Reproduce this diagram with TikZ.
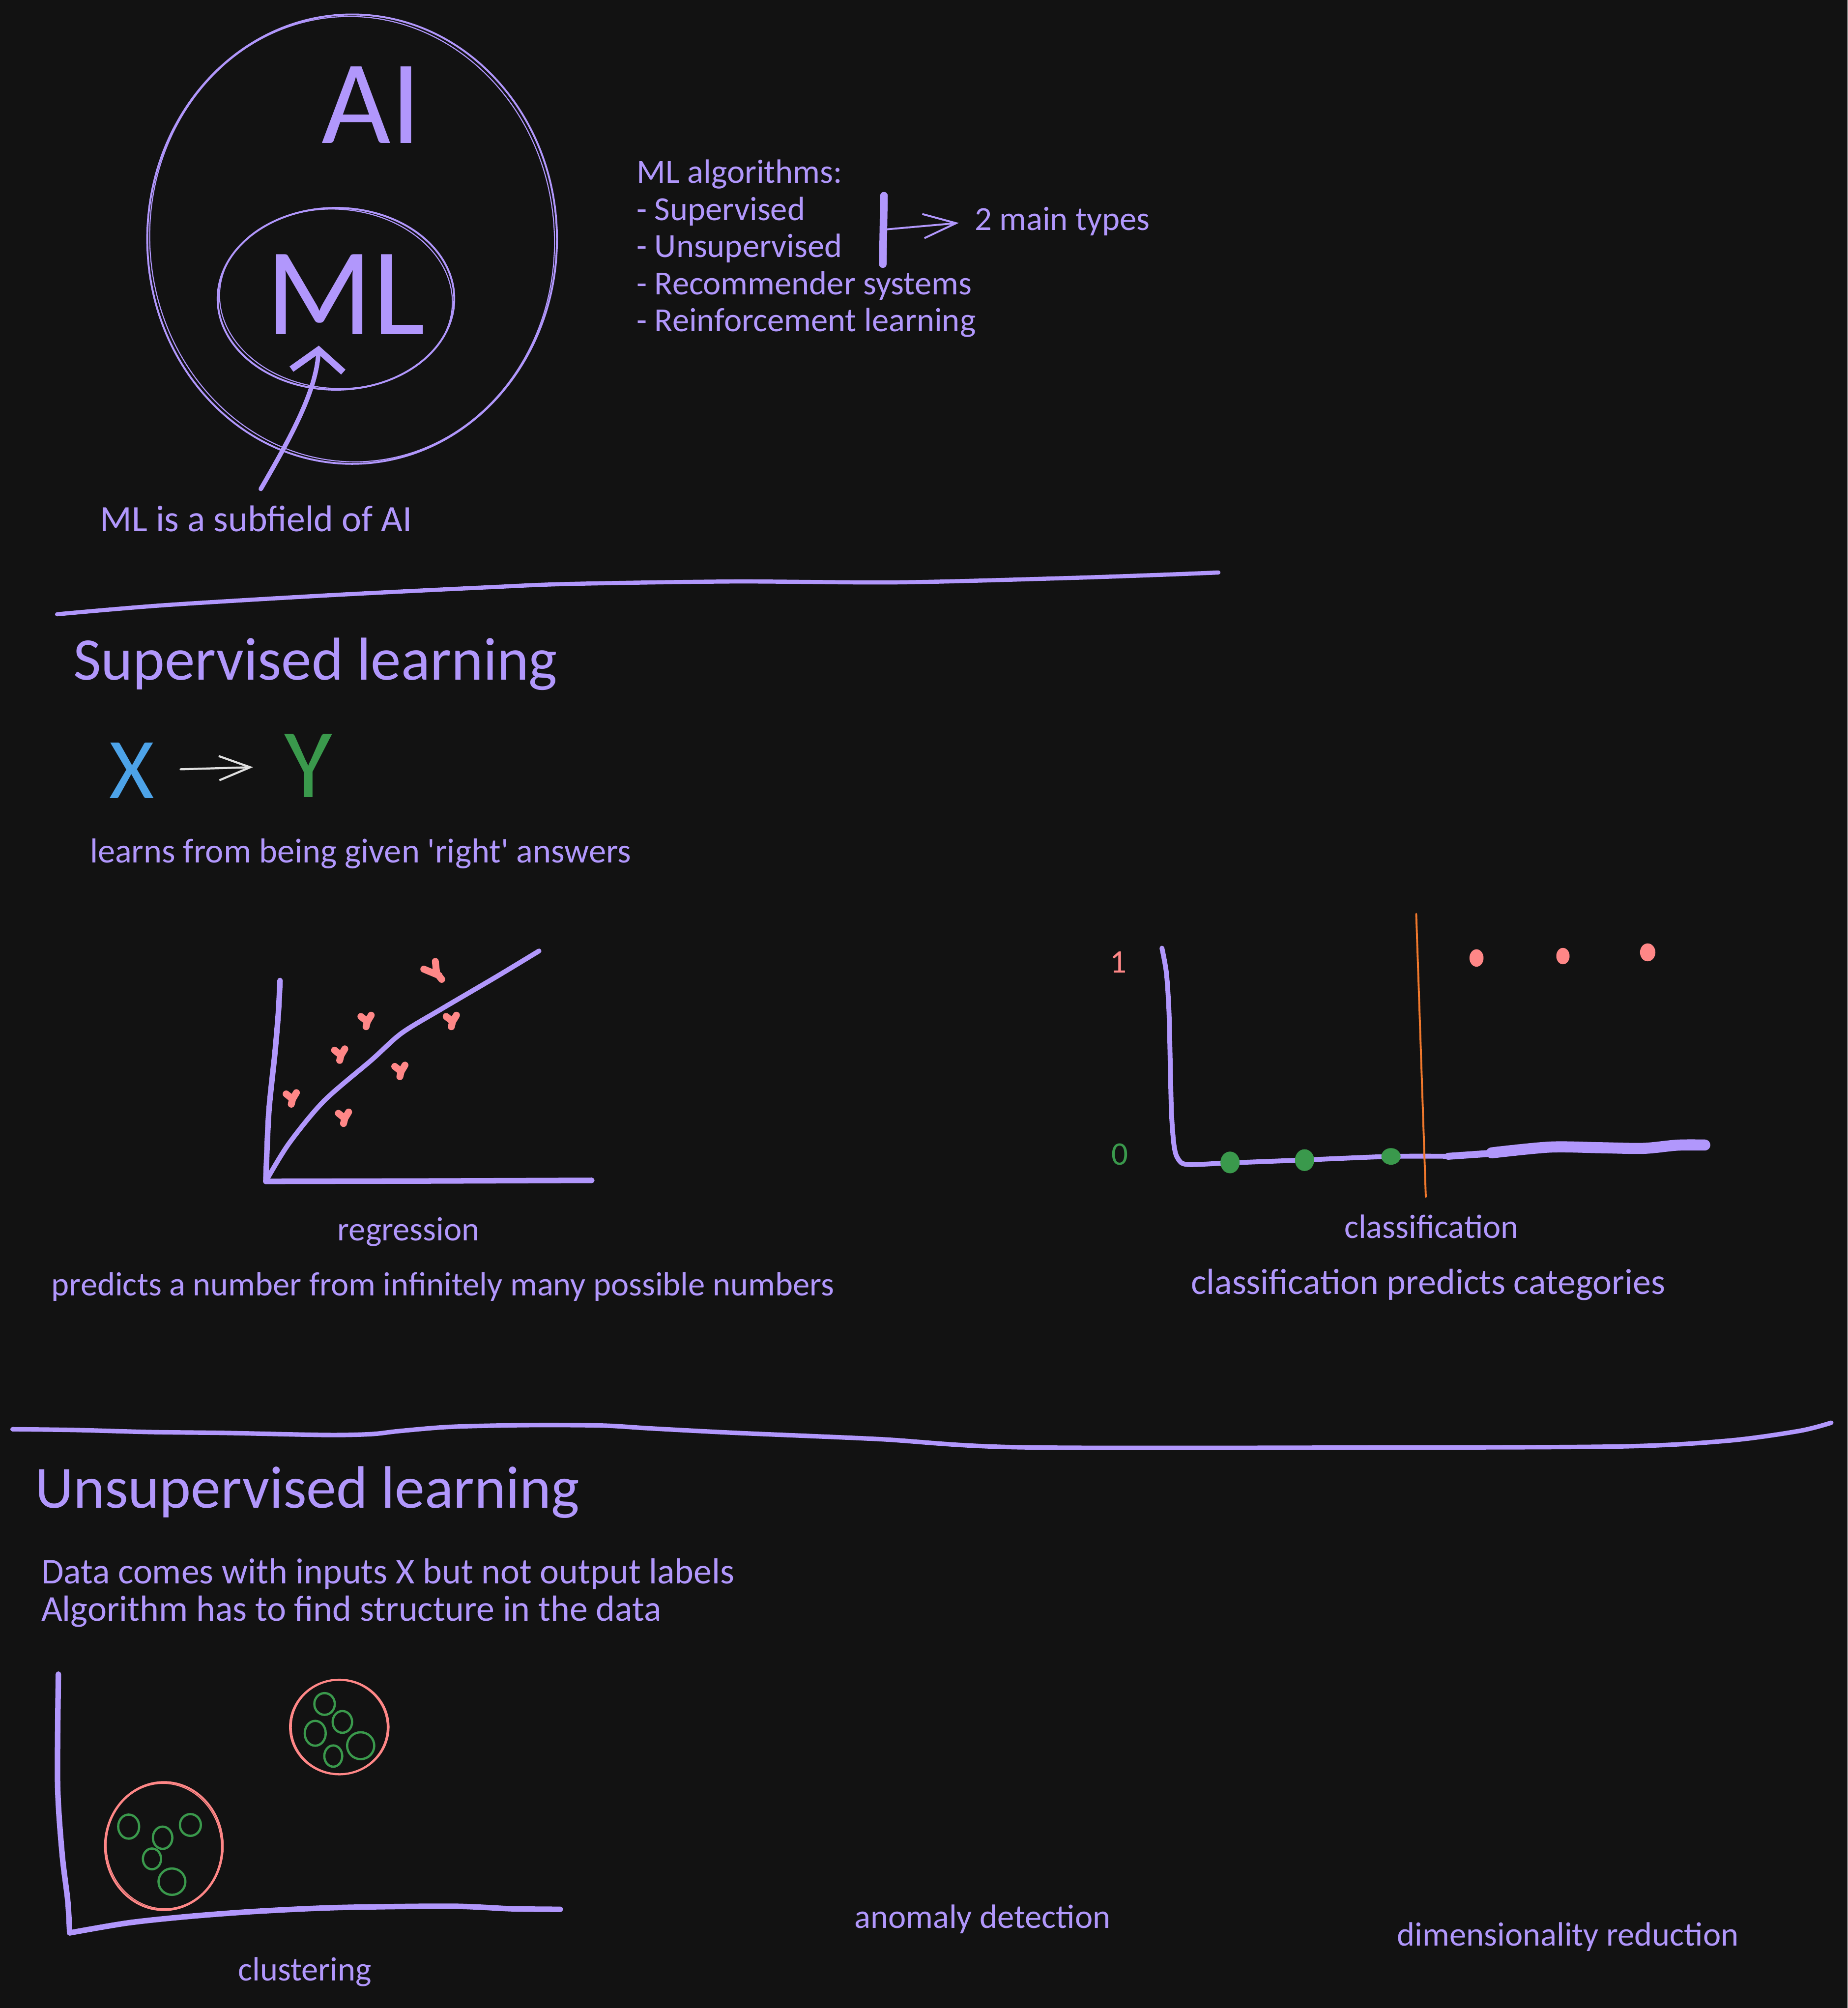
\documentclass[tikz,border=0pt]{standalone}
\usepackage{fontspec}
\setmainfont{Carlito}
\usetikzlibrary{shapes.geometric,arrows.meta}
\definecolor{paper}{HTML}{121212}
\definecolor{inkviolet}{HTML}{B197FC}
\definecolor{inkred}{HTML}{FF8787}
\definecolor{inkgreen}{HTML}{3A994C}
\definecolor{inkblue}{HTML}{4DA3E8}
\definecolor{inkorange}{HTML}{F0782C}
\definecolor{inkwhite}{HTML}{E0E0E0}
\newdimen\spx \spx=0.026cm
\begin{document}
\begin{tikzpicture}[x=0.026cm, y=-0.026cm, line cap=round, line join=round,
                        notetext/.style={
                        text=inkviolet, inner sep=0pt, anchor=base west,
                        font=\fontsize{19.5}{21.5}\selectfont},
                        titletext/.style={
                        text=inkviolet, inner sep=0pt, anchor=base west,
                        font=\fontsize{35}{40}\selectfont},
                        ring/.style={
                        shape=ellipse, draw=inkviolet, line width=1.1pt, inner sep=0pt},
                        redbubble/.style={
                        shape=ellipse, draw=inkred, line width=1.1pt, inner sep=0pt},
                        greendot/.style={
                        shape=ellipse, draw=inkgreen, line width=1.3pt, inner sep=0pt},
                        axisline/.style={draw=inkviolet, line width=3.2pt},
                        divline/.style={draw=inkviolet, line width=2.4pt},
                        redblob/.style={draw=inkred, line width=4pt}]
                        \fill [paper] (0,0) rectangle (1443,1568.5);
                        \useasboundingbox (0,0) rectangle (1443,1568.5);
                        % AI and ML
                        \node [ring, minimum width=320\spx, minimum height=351\spx] (aiw) at (275,186.8) {};
                        \draw [inkviolet, line width=0.6pt, rotate around={4:(275,186.8)}] (275,186.8) ellipse [x radius=158, y radius=174];
                        \node [text=inkviolet, inner sep=0pt, font=\fontsize{69}{69}\selectfont] (ait) at (290,82) {AI};
                        \node [ring, minimum width=184.8\spx, minimum height=142\spx] (mlw) at (262.4,233.4) {};
                        \draw [inkviolet, line width=0.6pt, rotate around={-4:(262.4,233.4)}] (262.4,233.4) ellipse [x radius=91, y radius=70];
                        \node [text=inkviolet, inner sep=0pt, font=\fontsize{72}{72}\selectfont] (mlt) at (270,230) {ML};
                        \node [notetext, font=\fontsize{21.5}{22}\selectfont] (sub) at (78,415) {ML is a subfield of AI};
                        \coordinate (subtail) at (203.7,381.9);
                        \coordinate (mlhead) at (249,270);
                        \draw [inkviolet, line width=2.6pt, -{Straight Barb[length=12pt,width=30pt,line width=3.8pt]}] (subtail) .. controls (228,340) and (247,305) .. (mlhead);
                        % algorithm list
                        \node [notetext] (alg0) at (497,143) {ML algorithms:};
                        \node [notetext] (alg1) at (497,172) {- Supervised};
                        \node [notetext] (alg2) at (497,201) {- Unsupervised};
                        \node [notetext] (alg3) at (497,230) {- Recommender systems};
                        \node [notetext] (alg4) at (497,259) {- Reinforcement learning};
                        \node [notetext] (types) at (761,180) {2 main types};
                        \draw [inkviolet, line width=4.4pt] (690.4,152.9) -- (689.5,206.3);
                        \coordinate (split) at (692,179.2);
                        \draw [inkviolet, line width=1.1pt, shorten >=9pt, -{Straight Barb[length=19pt,width=14pt]}] (split) -- (types.west);
                        \draw [divline] plot [smooth] coordinates {(44.6,479.8) (127.3,472.8) (254.6,465.1) (382,458.7) (445.6,456.1) (573,454.2) (700,454.9) (827.5,451.7) (904,449.1) (951.6,447.2)};
                        % supervised learning
                        \node [titletext] (suptitle) at (57,531) {Supervised learning};
                        \node [text=inkblue, inner sep=0pt, font=\fontsize{50}{50}\selectfont] (xin) at (103,602) {X};
                        \node [text=inkgreen, inner sep=0pt, font=\fontsize{57}{57}\selectfont] (yout) at (241,598) {Y};
                        \draw [inkwhite, line width=1.2pt, shorten <=15pt, shorten >=18pt, -{Straight Barb[length=18pt,width=14pt]}] (xin) -- (yout);
                        \node [notetext, font=\fontsize{20}{22}\selectfont] (learns) at (70,674) {learns from being given \textquotesingle right\textquotesingle{} answers};
                        % regression
                        \draw [axisline] plot [smooth] coordinates {(218.7,765.9) (217.5,790) (214.8,821.7) (209.9,869.4) (207.6,922.8)};
                        \draw [axisline] (207.6,922.8) -- (330,922.5) -- (462.2,922);
                        \draw [inkviolet, line width=2.8pt] plot [smooth] coordinates {(207.6,922.8) (225.6,893.3) (253,860) (290.2,828) (313.7,807) (345,788) (388.1,762.7) (421,742.8)};
                        \foreach \px/\py in {227.5/857.5, 268.3/872.6, 265.3/823.3, 285.9/797, 312.3/836, 352.5/797}
                          \draw [redblob] (\px-4,\py-3) -- (\px+1,\py+1) -- (\px+4,\py-4) (\px+1,\py+1) -- (\px,\py+5);
                        \draw [redblob] (331,757) -- (343,762) (340,751) -- (341,760) -- (345,765);
                        \node [notetext, anchor=base] (regr) at (319,969) {regression};
                        \node [notetext] (regrnote) at (40,1012) {predicts a number from infinitely many possible numbers};
                        % classification
                        \draw [axisline, line width=2.8pt] plot [smooth] coordinates {(907.5,740.6) (911,760) (913,790) (914,830) (915,870) (917,895) (920,905) (927.3,909.6) (959,908.4) (1020,906) (1086,903.3) (1131,903.2)};
                        \draw [axisline, line width=4pt] (1131,903.2) -- (1170,900.5);
                        \draw [axisline, line width=6.4pt] plot [smooth] coordinates {(1165,900.5) (1210.5,896) (1250,896.5) (1283.7,897) (1310,894.5) (1331.5,894.4)};
                        \draw [inkorange, line width=1.1pt] (1106.1,713.8) -- (1113.6,935);
                        \fill [inkgreen] (960.7,908) ellipse [x radius=7.5, y radius=8.5];
                        \fill [inkgreen] (1018.9,906.2) ellipse [x radius=7.5, y radius=8.5];
                        \fill [inkgreen] (1086.4,903.3) ellipse [x radius=7.5, y radius=6.5];
                        \fill [inkred] (1153.2,748.3) ellipse [x radius=5.5, y radius=6.8];
                        \fill [inkred] (1220.7,746.8) ellipse [x radius=5.2, y radius=6.4];
                        \fill [inkred] (1286.9,743.9) ellipse [x radius=6, y radius=7];
                        \node [text=inkred, inner sep=0pt, anchor=base, font=\fontsize{19}{19}\selectfont] (one) at (873.5,760) {1};
                        \node [text=inkgreen, inner sep=0pt, anchor=base, font=\fontsize{19}{19}\selectfont] (zero) at (874.7,910) {0};
                        \node [notetext, anchor=base] (clas) at (1118,967) {classification};
                        \node [notetext, font=\fontsize{21}{22}\selectfont] (clasnote) at (930,1011) {classification predicts categories};
                        \draw [divline, line width=2.6pt] plot [smooth] coordinates {(9.8,1116.4) (58.8,1117) (117.5,1118.6) (176,1119.3) (254.6,1120.9) (290,1120.2) (313,1117.7) (352.5,1114.5) (411,1113.2) (470,1113.5) (509,1115.8) (575.8,1119.3) (686.4,1124.1) (797,1130.5) (1073.6,1130.7) (1267.2,1129.8) (1350.1,1125.3) (1405.4,1117.7) (1430.3,1111.3)};
                        % unsupervised learning
                        \node [titletext, font=\fontsize{34.6}{40}\selectfont] (unstitle) at (27,1178) {Unsupervised learning};
                        \node [notetext, font=\fontsize{21}{22}\selectfont] (data1) at (32,1237) {Data comes with inputs X but not output labels};
                        \node [notetext, font=\fontsize{21}{22}\selectfont] (data2) at (32,1266) {Algorithm has to find structure in the data};
                        \draw [axisline] plot [smooth] coordinates {(45.6,1307.7) (45,1394) (48.5,1448) (52.9,1484.6) (54.4,1509.8)};
                        \draw [axisline] plot [smooth] coordinates {(54.4,1509.8) (100,1502) (147,1497) (200,1493) (264.7,1490) (352.9,1489) (400,1491) (437.6,1491.4)};
                        \node [redbubble, minimum width=92\spx, minimum height=100\spx] (grp1) at (128,1442) {};
                        \draw [inkred, line width=0.6pt, rotate around={5:(128,1442)}] (128,1442) ellipse [x radius=45, y radius=49];
                        \node [redbubble, minimum width=77\spx, minimum height=74\spx] (grp2) at (265,1349) {};
                        \draw [inkred, line width=0.6pt, rotate around={-5:(265,1349)}] (265,1349) ellipse [x radius=37.5, y radius=36.5];
                        \node [greendot, minimum width=16.4\spx, minimum height=18.8\spx] (p1) at (100.5,1426.8) {};
                        \node [greendot, minimum width=15.2\spx, minimum height=17.4\spx] (p2) at (127,1435.5) {};
                        \node [greendot, minimum width=16.4\spx, minimum height=17\spx] (p3) at (148.7,1425.5) {};
                        \node [greendot, minimum width=14.2\spx, minimum height=16.2\spx] (p4) at (118.7,1452) {};
                        \node [greendot, minimum width=21\spx, minimum height=20.6\spx] (p5) at (134.3,1469.8) {};
                        \node [greendot, minimum width=16\spx, minimum height=17\spx] (q1) at (253.5,1331) {};
                        \node [greendot, minimum width=15.2\spx, minimum height=17\spx] (q2) at (267.4,1345) {};
                        \node [greendot, minimum width=16.4\spx, minimum height=19.4\spx] (q3) at (246.2,1353.9) {};
                        \node [greendot, minimum width=21.2\spx, minimum height=21\spx] (q4) at (281.7,1363.6) {};
                        \node [greendot, minimum width=14\spx, minimum height=16.6\spx] (q5) at (260.3,1371.7) {};
                        \node [notetext, anchor=base] (clus) at (238,1547) {clustering};
                        \node [notetext] (anom) at (667,1506) {anomaly detection};
                        \node [notetext] (dimred) at (1091,1520) {dimensionality reduction};
                \end{tikzpicture}
\end{document}
